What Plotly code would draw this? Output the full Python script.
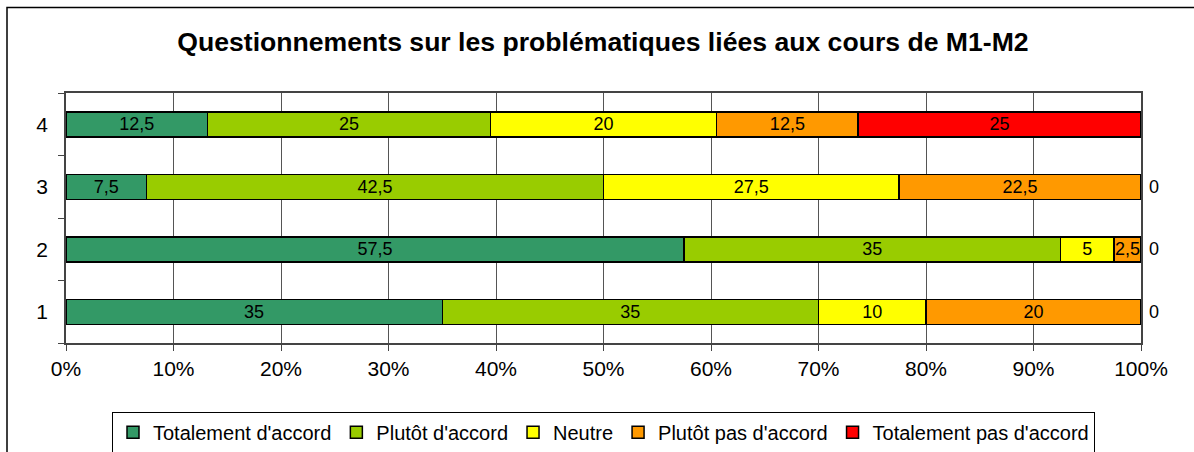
import plotly.graph_objects as go

categories = ["1", "2", "3", "4"]
series_names = ["Totalement d'accord", "Plutôt d'accord", "Neutre",
                "Plutôt pas d'accord", "Totalement pas d'accord"]
totalement_accord = [35, 57.5, 7.5, 12.5]
plutot_accord = [35, 35, 42.5, 25]
neutre = [10, 5, 27.5, 20]
plutot_pas_accord = [20, 2.5, 22.5, 12.5]
totalement_pas_accord = [0, 0, 0, 25]
x_ticks = [0, 10, 20, 30, 40, 50, 60, 70, 80, 90, 100]

series_values = [totalement_accord, plutot_accord, neutre,
                 plutot_pas_accord, totalement_pas_accord]
colors = ["#339966", "#99CC00", "#FFFF00", "#FF9900", "#FF0000"]
FONT = "Liberation Sans, Arial, sans-serif"

def fmt(v):
    return ("%g" % v).replace(".", ",")

fig = go.Figure()
for name, vals, col in zip(series_names, series_values, colors):
    fig.add_trace(go.Bar(
        y=categories, x=vals, name=name, orientation="h",
        marker=dict(color=col, line=dict(color="black", width=1.5)),
        text=[(" " + fmt(v)) if v == 0 else fmt(v) for v in vals],
        textposition=["outside" if v == 0 else "inside" for v in vals],
        insidetextanchor="middle",
        textangle=0,
        textfont=dict(family=FONT, size=18, color="black"),
        outsidetextfont=dict(family=FONT, size=18, color="black"),
        constraintext="none",
        cliponaxis=False,
        width=0.4,
        hoverinfo="skip",
    ))

fig.update_layout(
    barmode="stack", barnorm="percent",
    width=1194, height=452,
    margin=dict(l=66, r=53, t=93, b=109, autoexpand=False),
    paper_bgcolor="white", plot_bgcolor="white",
    font=dict(family=FONT, size=21, color="black"),
    title=dict(text="<b>Questionnements sur les problématiques liées aux cours de M1-M2</b>",
               x=0.505, xanchor="center", y=1 - 42 / 452, yanchor="middle",
               font=dict(size=26.6, color="black", family=FONT), automargin=False),
    showlegend=True,
    legend=dict(orientation="h", x=0.5, xanchor="center", y=-0.275, yanchor="top",
                bordercolor="black", borderwidth=1, font=dict(size=20, family=FONT),
                traceorder="normal", itemwidth=30, tracegroupgap=0,
                itemclick=False),
    uniformtext=dict(mode="show", minsize=18),
)

fig.update_xaxes(
    range=[0, 100], tickvals=x_ticks, ticktext=[f"{t}%" for t in x_ticks],
    showgrid=True, gridcolor="#555555", gridwidth=1,
    showline=True, linecolor="#444444", linewidth=1.5, mirror=True,
    ticks="outside", ticklen=6, tickcolor="#444444",
    zeroline=False, fixedrange=True, automargin=False,
    tickfont=dict(size=21),
)
fig.update_yaxes(
    type="category", categoryorder="array", categoryarray=categories,
    tickson="boundaries", ticks="outside", ticklen=6, tickcolor="#444444",
    showline=True, linecolor="#444444", linewidth=1.5, mirror=True,
    showgrid=False, ticklabelstandoff=12, fixedrange=True, automargin=False,
    tickfont=dict(size=21),
)

# outer chart border
fig.add_shape(type="rect", xref="paper", yref="paper",
              x0=-59 / 1075, x1=(1200 - 66) / 1075,
              y0=-(452 - 343 + 10) / 250, y1=(343 - 7.5) / 250,
              line=dict(color="black", width=1.5), fillcolor="rgba(0,0,0,0)", layer="below")

fig.write_html("out.html", config={"displayModeBar": False},
               post_script="document.body.style.margin='0';")
